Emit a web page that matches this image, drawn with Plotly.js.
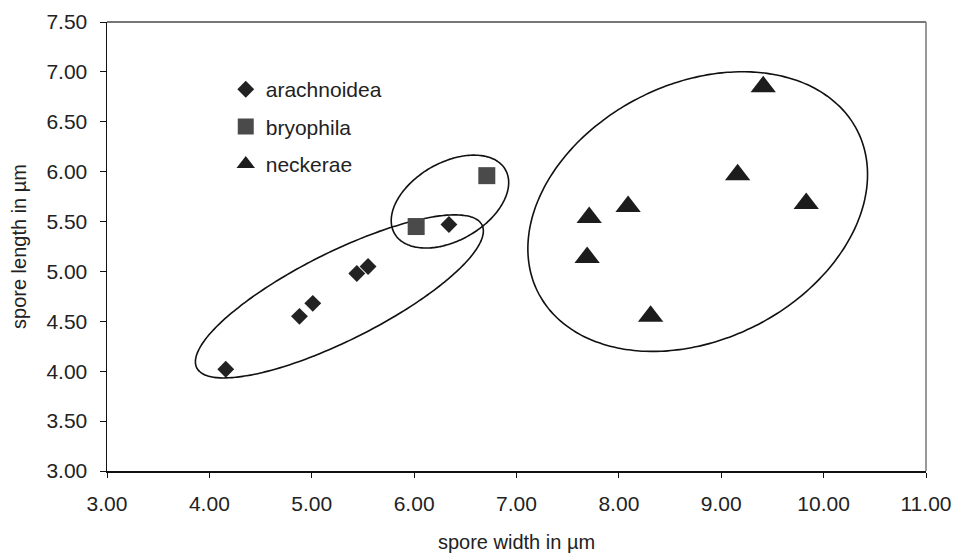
<!DOCTYPE html>
<html>
<head>
<meta charset="utf-8">
<script src="https://cdn.plot.ly/plotly-3.0.1.min.js"></script>
<style>html,body{margin:0;padding:0;background:#fff;}#chart{width:955px;height:553px;}</style>
</head>
<body>
<div id="chart"></div>
<script>
// ---- data ----
const arachnoideaWidth  = [4.16, 4.88, 5.01, 5.44, 5.55, 6.34];
const arachnoideaLength = [4.02, 4.55, 4.68, 4.98, 5.05, 5.47];
const bryophilaWidth  = [6.02, 6.71];
const bryophilaLength = [5.45, 5.96];
const neckeraeWidth  = [7.71, 7.69, 8.09, 8.31, 9.16, 9.41, 9.83];
const neckeraeLength = [5.54, 5.14, 5.65, 4.55, 5.97, 6.85, 5.68];
const seriesNames = ['arachnoidea', 'bryophila', 'neckerae'];
const xTickVals = [3, 4, 5, 6, 7, 8, 9, 10, 11];
const yTickVals = [3, 3.5, 4, 4.5, 5, 5.5, 6, 6.5, 7, 7.5];

// group outlines (center x, center y, semi-axes in x-units, tilt in degrees)
const outlineCenterX = [5.27, 6.35, 8.77];
const outlineCenterY = [4.75, 5.70, 5.60];
const outlineMajor   = [1.558, 0.625, 1.748];
const outlineMinor   = [0.43, 0.38, 1.25];
const outlineTilt    = [26.6, 30, 26.8];

const aspect = 102.4 / 99.8; // px per x-unit / px per y-unit
function outlineTrace(i) {
  const xs = [], ys = [];
  const th = outlineTilt[i] * Math.PI / 180;
  for (let k = 0; k <= 180; k++) {
    const t = 2 * Math.PI * k / 180;
    const u = outlineMajor[i] * Math.cos(t), v = outlineMinor[i] * Math.sin(t);
    xs.push(outlineCenterX[i] + u * Math.cos(th) - v * Math.sin(th));
    ys.push(outlineCenterY[i] + (u * Math.sin(th) + v * Math.cos(th)) * aspect);
  }
  return {x: xs, y: ys, mode: 'lines', type: 'scatter', showlegend: false,
          hoverinfo: 'skip', line: {color: '#111', width: 1.6, shape: 'spline'}};
}

const traces = [
  outlineTrace(0), outlineTrace(1), outlineTrace(2),
  {x: arachnoideaWidth, y: arachnoideaLength, name: seriesNames[0], legendgroup: 'a',
   mode: 'markers', type: 'scatter', marker: {symbol: 'diamond', size: 13, color: '#222'}},
  {x: bryophilaWidth, y: bryophilaLength, name: seriesNames[1], legendgroup: 'b',
   mode: 'markers', type: 'scatter', marker: {symbol: 'square', size: 17, color: '#4a4a4a'}},
  {x: neckeraeWidth, y: neckeraeLength, name: seriesNames[2], legendgroup: 'c',
   mode: 'markers', type: 'scatter', marker: {symbol: 'triangle-up', size: 22, color: '#1c1c1c'}}
];

const txt = '#222';
const font = {family: 'Liberation Sans, Arial, sans-serif', color: txt};
const layout = {
  width: 955, height: 553,
  margin: {l: 107, r: 29, t: 22, b: 82},
  paper_bgcolor: '#fff', plot_bgcolor: '#fff',
  font: font,
  showlegend: true,
  legend: {x: 0.145, y: 0.895, xanchor: 'left', yanchor: 'top', bgcolor: 'rgba(0,0,0,0)',
           font: {family: font.family, size: 21, color: txt},
           traceorder: 'grouped', tracegroupgap: 7, itemwidth: 30},
  xaxis: {range: [3, 11], tickvals: xTickVals, tickformat: '.2f', showgrid: false, zeroline: false,
          showline: true, linecolor: '#111', linewidth: 1.5, ticks: 'outside', ticklen: 5,
          tickcolor: '#111', tickfont: {size: 21, color: txt}, ticklabelstandoff: 8,
          title: {text: 'spore width in µm', font: {size: 20, color: txt}, standoff: 22}},
  yaxis: {range: [3, 7.5], tickvals: yTickVals, tickformat: '.2f', showgrid: false, zeroline: false,
          showline: true, linecolor: '#111', linewidth: 1.5, ticks: 'outside', ticklen: 6,
          tickcolor: '#111', tickfont: {size: 21, color: txt}, ticklabelstandoff: 8,
          title: {text: 'spore length in µm', font: {size: 20, color: txt}, standoff: 14}},
  shapes: [
    {type: 'line', xref: 'paper', yref: 'paper', x0: 0, x1: 1, y0: 1, y1: 1, line: {color: '#777', width: 2}},
    {type: 'line', xref: 'paper', yref: 'paper', x0: 1, x1: 1, y0: 0, y1: 1, line: {color: '#777', width: 1.5}}
  ]
};

Plotly.newPlot('chart', traces, layout, {displayModeBar: false, staticPlot: true});
</script>
</body>
</html>
